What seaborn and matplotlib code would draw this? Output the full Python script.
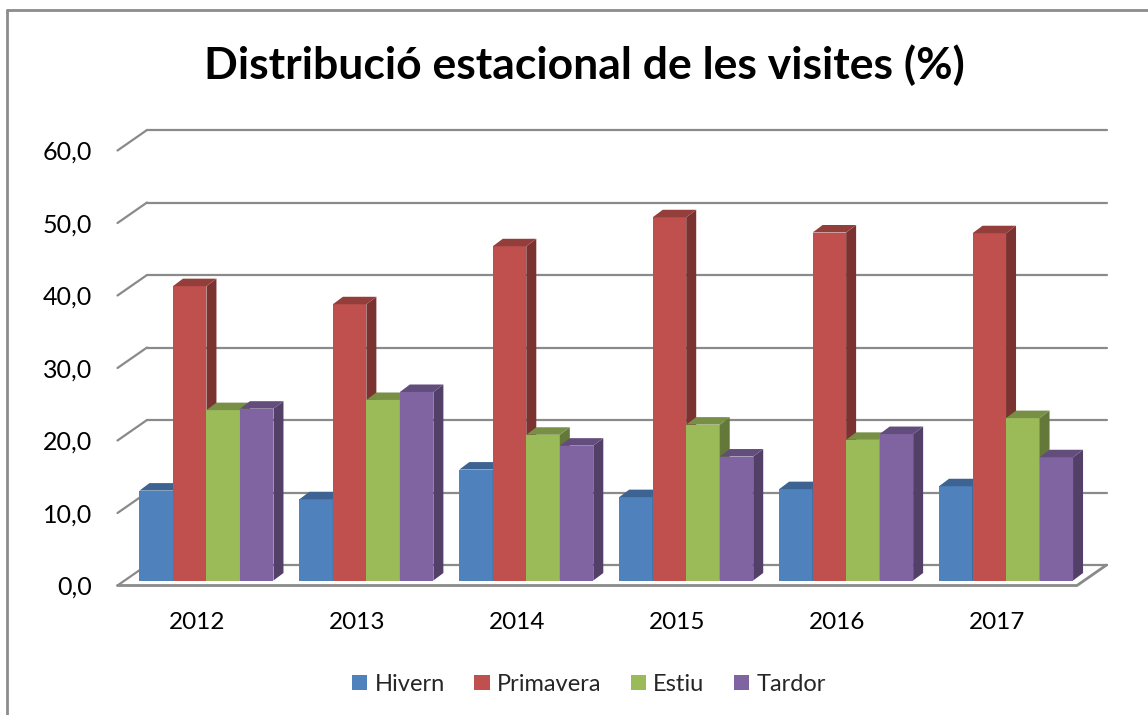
import numpy as np
import pandas as pd
import matplotlib
matplotlib.use("Agg")
import matplotlib.pyplot as plt
import seaborn as sns
from matplotlib.patches import Polygon
from matplotlib.lines import Line2D
from matplotlib.colors import to_rgb

# ---------------- data ----------------
years = ["2012", "2013", "2014", "2015", "2016", "2017"]
seasons = ["Hivern", "Primavera", "Estiu", "Tardor"]
hivern = [12.4, 11.2, 15.3, 11.5, 12.6, 13.0]
primavera = [40.6, 38.1, 46.1, 50.1, 48.0, 47.9]
estiu = [23.5, 24.9, 20.1, 21.5, 19.4, 22.4]
tardor = [23.7, 26.0, 18.6, 17.1, 20.2, 17.0]
ytick_values = [0, 10, 20, 30, 40, 50, 60]
ytick_labels = ["0,0", "10,0", "20,0", "30,0", "40,0", "50,0", "60,0"]
title = "Distribució estacional de les visites (%)"
colors = ["#4F81BD", "#C0504D", "#9BBB59", "#8064A2"]

df = pd.DataFrame({
    "year": years * 4,
    "season": sum([[s] * len(years) for s in seasons], []),
    "value": hivern + primavera + estiu + tardor,
})

# ---------------- style ----------------
sns.set_theme(style="white")
plt.rcParams["font.family"] = ["Lato", "DejaVu Sans"]

W, H = 1148, 715
fig = plt.figure(figsize=(W / 100, H / 100), dpi=100)
fig.patch.set_facecolor("white")

# pixel geometry of the pseudo-3D frame
L, R, B, T = 117.5, 1107.0, 585.5, 130.0
front_right = 1077.0
px_x = (front_right - L) / len(years)
px_y = 7.25
ax = fig.add_axes([L / W, (H - B) / H, (R - L) / W, (B - T) / H])
ax.set_facecolor("none")

sns.barplot(data=df, x="year", y="value", hue="season", order=years,
            hue_order=seasons, palette=colors, saturation=1, width=0.838,
            gap=0, edgecolor="none", linewidth=0, ax=ax)

ax.set_xlim(-0.5, -0.5 + (R - L) / px_x)
ax.set_ylim(0, (B - T) / px_y)

# depth of walls / bars (in data units)
Dx, Dy = 29.5 / px_x, 20.5 / px_y          # wall depth
ox, oy = 9.0 / px_x, 5.0 / px_y            # bar front-plane offset
bdx, bdy = 10.0 / px_x, 7.5 / px_y         # bar depth

grid_c = "#8A8A8A"
glw = 1.6
x_front_l = -0.5
x_front_r = len(years) - 0.5
for v in ytick_values:
    # back wall line
    ax.add_line(Line2D([x_front_l + Dx, x_front_r + Dx], [v + Dy, v + Dy],
                       color=grid_c, lw=glw, zorder=1, clip_on=False))
    # left wall diagonal
    ax.add_line(Line2D([x_front_l, x_front_l + Dx], [v, v + Dy],
                       color=grid_c, lw=glw, zorder=1, clip_on=False))
# floor front + right edges
ax.add_line(Line2D([x_front_l, x_front_r, x_front_r + Dx], [0, 0, Dy],
                   color=grid_c, lw=glw + 0.4, zorder=1, clip_on=False))

# bars: shift to bar plane and add side / top faces
rgb_cols = [np.array(to_rgb(c)) for c in colors]
for p in ax.patches:
    fc = np.array(p.get_facecolor()[:3])
    k = int(np.argmin([np.abs(fc - c).sum() for c in rgb_cols]))
    x0 = p.get_x() + ox
    w = p.get_width()
    h = p.get_height()
    p.set_x(x0)
    p.set_y(oy)
    p.set_zorder(3 + k)
    p.set_clip_on(False)
    x1 = x0 + w
    y0, y1 = oy, oy + h
    side = Polygon([(x1, y0), (x1 + bdx, y0 + bdy), (x1 + bdx, y1 + bdy), (x1, y1)],
                   closed=True, facecolor=tuple(rgb_cols[k] * 0.64), edgecolor="none",
                   zorder=3 + k, clip_on=False)
    top = Polygon([(x0, y1), (x1, y1), (x1 + bdx, y1 + bdy), (x0 + bdx, y1 + bdy)],
                  closed=True, facecolor=tuple(rgb_cols[k] * 0.77), edgecolor="none",
                  zorder=3 + k, clip_on=False)
    ax.add_patch(side)
    ax.add_patch(top)

ax.set_yticks(ytick_values, ytick_labels)
ax.tick_params(axis="y", length=0, pad=18.5, labelsize=18, colors="black")
ax.tick_params(axis="x", length=0, pad=19, labelsize=17.5, colors="black")
ax.set_xlabel("")
ax.set_ylabel("")
for s in ax.spines.values():
    s.set_visible(False)
ax.grid(False)

sns.move_legend(ax, "center", bbox_to_anchor=(0.513, 0.043),
                bbox_transform=fig.transFigure, ncol=4, frameon=False,
                title=None, fontsize=17, handlelength=0.65, handleheight=0.65,
                handletextpad=0.3, columnspacing=1.25)

fig.text(584 / W, (H - 65) / H, title, ha="center", va="center",
         fontsize=32, fontweight="bold", color="black")

# outer chart border (left and top edges visible)
fig.add_artist(Line2D([7 / W, 7 / W], [0, (H - 10) / H], color="#8C8C8C", lw=2,
                      transform=fig.transFigure))
fig.add_artist(Line2D([7 / W, 1], [(H - 10) / H, (H - 10) / H], color="#8C8C8C", lw=2,
                      transform=fig.transFigure))

fig.savefig("out.png", dpi=100)
